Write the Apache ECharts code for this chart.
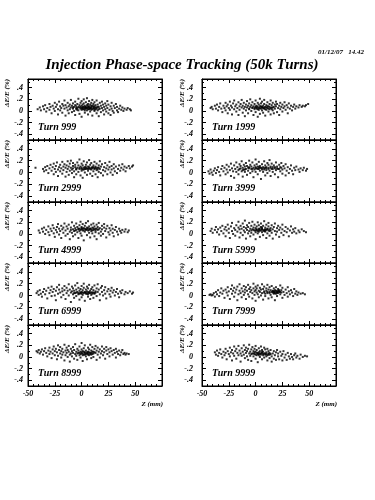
<!DOCTYPE html>
<html><head><meta charset="utf-8">
<script src="https://cdn.jsdelivr.net/npm/echarts@6/dist/echarts.min.js"></script>
<style>html,body{margin:0;padding:0;background:#fff}#c{width:375px;height:500px}</style>
</head><body><div id="c"></div>
<script>
// Panel labels (row by row, left then right)
const turnLabels = ['Turn 999','Turn 1999','Turn 2999','Turn 3999','Turn 4999','Turn 5999','Turn 6999','Turn 7999','Turn 8999','Turn 9999'];
const xTickLabels = [-50,-25,0,25,50];
const yTickLabels = [-0.4,-0.2,0,0.2,0.4];
const yMinorTicks = [-0.5,-0.4,-0.3,-0.2,-0.1,0,0.1,0.2,0.3,0.4,0.5];
// Points: flat pairs of Z (mm), dE/E (units of 0.01 %)
const turn999 = [-41,3,-39,6,-38,1,-36,8,-35,3,-34,10,-33,-1,-32,5,-30,12,-30,2,-29,7,-28,-4,-27,9,-26,4,-25,14,-25,0,-24,7,-23,11,-22,-6,-22,3,-21,16,-20,8,-20,1,-19,5,-18,12,-18,-3,-17,9,-16,18,-16,4,-15,-8,-15,10,-14,6,-13,1,-13,14,-12,8,-12,-4,-11,11,-11,3,-10,19,-10,6,-9,-2,-9,9,-8,13,-8,4,-7,0,-7,7,-6,16,-6,10,-6,-7,-5,3,-5,8,-4,12,-4,5,-3,21,-3,1,-3,7,-2,-5,-2,10,-1,4,-1,14,-1,7,0,2,0,9,0,17,0,-10,1,5,1,11,1,7,2,3,2,13,2,20,3,6,3,-3,3,9,4,4,4,15,4,7,5,1,5,10,5,22,6,6,6,-6,6,12,7,3,7,8,7,17,8,5,8,-1,8,11,9,7,9,14,9,2,10,9,10,-8,10,19,11,4,11,12,11,6,12,0,12,15,12,8,13,3,13,10,14,-4,14,18,14,6,15,1,15,11,16,7,16,-9,17,14,17,4,18,9,18,-2,19,16,19,5,20,1,20,11,21,-6,21,7,22,13,22,3,23,-1,23,9,24,17,24,5,25,-4,25,11,26,2,27,8,27,-7,28,14,28,4,29,0,30,9,30,-3,31,5,32,12,33,1,33,7,34,-2,35,4,36,9,37,2,38,6,39,0,40,4,42,2,43,5,45,3,46,1,-5,5,-2,6,0,5,1,3,2,7,3,4,4,6,5,5,6,3,7,6,8,4,9,5,10,3,11,8,12,5,13,6,14,4,15,7,16,3,-8,6,-4,2,3,1,6,8,9,9,12,2];
const turn1999 = [-42,5,-41,7,-40,3,-38,9,-37,4,-36,11,-35,1,-34,7,-33,13,-32,4,-31,-2,-30,9,-29,5,-28,14,-28,1,-27,8,-26,-4,-26,11,-25,5,-24,16,-24,2,-23,9,-22,-6,-22,6,-21,13,-20,3,-20,18,-19,8,-18,-1,-18,11,-17,5,-16,15,-16,-7,-15,8,-15,2,-14,12,-13,6,-13,19,-12,-3,-12,9,-11,4,-11,14,-10,7,-10,-9,-9,11,-9,1,-8,17,-8,6,-7,9,-7,-4,-6,3,-6,13,-5,7,-5,20,-4,0,-4,10,-3,5,-3,15,-2,-7,-2,8,-1,3,-1,12,0,6,0,18,0,-2,1,9,1,4,2,14,2,-10,2,7,3,2,3,11,4,5,4,21,4,-5,5,8,5,13,6,1,6,6,6,16,7,-3,7,9,8,4,8,12,8,19,9,7,9,-8,10,2,10,10,11,15,11,5,12,-1,12,8,13,12,13,3,14,18,14,-6,15,6,15,10,16,1,16,14,17,7,17,-4,18,11,18,4,19,16,19,8,20,-2,20,12,21,5,22,9,22,-7,23,14,23,3,24,7,25,11,25,-1,26,5,27,15,27,8,28,2,29,10,30,-4,30,6,31,13,32,4,33,9,34,1,35,7,36,11,37,4,38,8,40,6,41,10,43,7,44,9,46,8,47,10,49,12,-6,4,-3,6,-1,5,1,6,3,5,4,8,5,4,6,7,7,5,8,6,9,3,10,6,11,8,12,4,13,7,14,5,15,3,16,6,2,3,0,8];
const turn2999 = [-43,8,-36,6,-35,2,-34,9,-33,4,-32,11,-31,-1,-30,7,-29,13,-28,3,-27,9,-26,-3,-26,15,-25,6,-24,1,-24,11,-23,17,-22,5,-22,-6,-21,9,-20,13,-20,2,-19,7,-18,18,-18,-2,-17,10,-17,4,-16,14,-15,-7,-15,8,-14,1,-14,12,-13,19,-13,6,-12,-4,-12,10,-11,3,-11,15,-10,8,-10,20,-9,-1,-9,5,-8,11,-8,16,-7,2,-7,-8,-6,9,-6,13,-5,5,-5,-3,-4,17,-4,8,-3,1,-3,12,-2,6,-2,22,-1,-5,-1,10,0,3,0,15,0,8,1,-9,1,12,2,5,2,19,3,9,3,0,4,13,4,6,5,-4,5,17,6,10,6,3,7,21,7,7,8,-2,8,13,9,5,9,16,10,9,10,-6,11,2,11,12,12,18,12,7,13,-3,13,10,14,4,14,15,15,8,15,-8,16,12,16,1,17,19,17,6,18,-1,18,10,19,14,20,4,20,-5,21,9,22,16,22,2,23,7,24,-3,24,12,25,5,26,18,26,9,27,0,28,11,28,5,29,-4,30,14,30,7,31,2,32,10,33,-1,34,6,35,12,36,3,37,8,38,14,39,5,40,10,41,2,42,8,44,11,45,7,47,10,48,12,-5,6,-2,8,0,6,1,5,2,8,3,6,4,9,5,7,6,6,7,9,8,6,9,8,10,7,11,9,12,6,13,8,14,7,15,5,16,8,-8,7];
const turn3999 = [-44,2,-43,-2,-42,5,-41,0,-40,-4,-39,3,-38,7,-37,-1,-36,4,-35,9,-34,1,-33,-5,-32,6,-31,11,-30,2,-29,8,-28,-3,-27,13,-27,5,-26,0,-25,10,-24,4,-23,15,-23,-6,-22,7,-21,2,-20,12,-20,-9,-19,6,-18,17,-18,1,-17,9,-16,4,-16,-3,-15,14,-14,7,-14,11,-13,2,-13,19,-12,8,-12,-7,-11,5,-11,13,-10,10,-10,1,-9,16,-9,6,-8,-4,-8,11,-7,8,-7,3,-6,20,-6,9,-5,-1,-5,13,-4,6,-4,10,-3,2,-3,17,-2,8,-2,-8,-1,12,-1,5,0,9,0,22,0,1,1,7,1,14,2,-3,2,10,3,6,3,18,4,3,4,11,5,8,5,-11,6,14,6,5,7,9,7,1,8,19,8,7,9,-5,9,12,10,4,10,9,11,16,11,-1,12,8,12,13,13,3,13,21,14,10,14,-6,15,6,15,15,16,1,16,9,17,12,18,-3,18,7,19,17,19,4,20,10,21,-8,21,6,22,13,23,2,23,9,24,16,25,5,25,-2,26,11,27,7,28,-5,28,14,29,3,30,9,31,-1,32,6,33,12,34,3,35,-3,36,8,37,4,38,10,40,5,41,1,42,7,44,4,45,8,47,3,48,6,-15,6,-10,5,-6,7,-3,6,0,7,2,6,4,8,6,7,8,5,10,7,12,6,14,8,16,6,18,9,20,7,22,6,-12,4,3,9,9,8,24,8];
const turn4999 = [-40,6,-39,2,-37,9,-36,4,-35,11,-34,0,-33,7,-31,13,-31,3,-30,-2,-29,9,-28,5,-27,15,-26,1,-26,10,-25,-5,-24,7,-23,12,-23,3,-22,17,-21,-1,-21,9,-20,5,-19,14,-19,-7,-18,8,-17,2,-17,11,-16,18,-15,6,-15,-3,-14,13,-13,9,-13,0,-12,16,-11,4,-11,-9,-10,11,-10,7,-9,20,-9,2,-8,8,-8,-4,-7,14,-7,5,-6,10,-6,-1,-5,18,-5,7,-4,3,-4,12,-3,-7,-3,9,-2,15,-2,5,-1,1,-1,21,0,8,0,12,0,-3,1,6,1,17,2,10,2,-11,3,4,3,14,4,8,4,19,5,-2,5,11,6,6,6,22,7,2,7,13,8,9,8,-6,9,16,9,5,10,11,10,1,11,18,11,7,12,-4,12,13,13,9,13,3,14,16,14,-9,15,7,15,12,16,1,16,19,17,10,18,4,18,-3,19,14,19,8,20,0,21,11,21,17,22,5,23,-6,23,9,24,14,25,3,26,10,26,-1,27,6,28,15,29,2,29,9,30,-4,31,7,32,12,33,4,34,-1,35,9,36,5,37,2,38,7,40,4,41,8,43,3,44,6,-6,6,-3,8,-1,7,1,9,2,6,3,9,4,7,5,8,6,10,7,7,8,9,9,8,10,6,11,10,12,8,13,6,-2,9,0,10,14,9,16,8];
const turn5999 = [-42,5,-41,9,-40,2,-38,7,-37,12,-36,3,-35,8,-34,-1,-33,11,-32,5,-31,14,-30,1,-29,8,-28,-4,-28,12,-27,6,-26,16,-25,2,-25,9,-24,-7,-23,13,-22,5,-22,19,-21,0,-20,10,-19,7,-19,-3,-18,15,-17,4,-16,11,-16,21,-15,-6,-15,8,-14,2,-14,14,-13,9,-12,18,-12,-2,-11,6,-11,12,-10,3,-10,23,-9,10,-9,-8,-8,7,-8,15,-7,1,-7,12,-6,19,-6,5,-5,-4,-5,9,-4,14,-4,2,-3,8,-3,21,-2,-1,-2,11,-1,6,-1,16,0,3,0,10,0,-9,1,13,1,7,2,20,2,1,3,9,3,15,4,-5,4,6,5,12,5,18,6,3,6,9,7,-2,7,14,8,7,8,22,9,4,9,11,10,-7,10,16,11,8,11,1,12,13,12,19,13,5,13,-3,14,10,15,15,15,2,16,8,16,-8,17,12,18,5,18,18,19,-1,20,10,20,4,21,14,22,-5,22,7,23,11,24,2,25,16,25,8,26,-2,27,5,28,12,29,3,30,9,31,-4,32,6,33,13,34,2,35,8,36,4,37,10,38,1,40,6,41,3,43,8,45,5,47,3,-4,6,-2,7,0,6,1,8,2,5,3,7,4,9,5,6,6,8,7,6,8,5,9,8,10,7,11,9,12,6,13,8,14,6,3,4,6,11,9,6];
const turn6999 = [-42,4,-41,7,-40,1,-39,9,-38,3,-37,-2,-36,6,-35,11,-34,2,-33,8,-32,-5,-31,13,-30,4,-29,9,-28,-1,-28,15,-27,6,-26,11,-25,0,-24,8,-24,-8,-23,14,-22,3,-21,10,-21,18,-20,5,-19,-3,-18,12,-18,7,-17,1,-16,16,-16,9,-15,-6,-14,4,-14,13,-13,8,-12,19,-12,0,-11,10,-10,5,-10,-11,-9,15,-9,7,-8,2,-8,12,-7,-4,-7,8,-6,17,-6,4,-5,10,-5,-1,-4,6,-4,21,-3,13,-3,2,-2,8,-2,-7,-1,4,-1,11,0,16,0,6,0,-3,1,9,1,1,2,13,2,20,3,5,3,-9,4,10,4,3,5,15,5,7,6,-2,6,12,7,4,7,18,8,8,8,-6,9,11,9,1,10,14,10,5,11,-4,11,9,12,17,12,3,13,7,14,12,14,-1,15,6,15,19,16,10,17,2,17,-8,18,13,19,6,19,16,20,0,21,9,22,3,22,14,23,-5,24,7,25,11,26,2,27,8,27,-2,28,13,29,5,30,9,31,0,32,6,33,11,34,3,35,-3,36,7,37,4,38,9,40,2,41,6,43,4,45,7,47,3,48,5,-7,4,-5,5,-3,4,-1,5,0,3,1,5,2,4,3,6,4,5,5,3,6,5,7,6,8,4,9,5,10,3,11,5,12,4,13,5,-2,3,6,2];
const turn7999 = [-43,1,-42,2,-41,0,-40,1,-39,4,-38,-2,-37,6,-36,2,-35,9,-34,-1,-33,5,-32,12,-31,3,-30,8,-29,-4,-28,10,-27,5,-26,14,-26,0,-25,7,-24,-6,-23,11,-22,3,-22,17,-21,8,-20,-2,-20,13,-19,5,-18,10,-17,-8,-17,15,-16,2,-15,8,-15,19,-14,4,-13,12,-13,-3,-12,7,-11,16,-11,1,-10,10,-10,5,-9,-6,-9,14,-8,8,-7,2,-7,18,-6,11,-6,-2,-5,6,-5,14,-4,9,-3,-5,-3,4,-2,12,-2,20,-1,7,-1,1,0,15,0,-9,0,9,1,5,1,12,2,2,2,17,3,8,3,-3,4,13,4,6,5,10,5,0,6,19,6,4,7,-7,7,11,8,7,8,15,9,3,9,-1,10,12,10,8,11,18,11,4,12,-5,12,10,13,6,13,14,14,1,14,9,15,16,15,-3,16,7,17,12,17,3,18,-8,18,9,19,14,20,5,20,-1,21,11,22,7,23,17,23,2,24,9,25,-4,25,13,26,6,27,1,28,10,29,4,30,-2,30,14,31,7,32,2,33,9,34,5,35,-1,36,11,37,3,38,7,39,1,40,5,42,3,44,4,46,2,16,5,17,7,18,4,18,6,19,8,20,5,20,7,21,4,21,8,22,6,19,3,17,5,22,9,23,6,15,6,16,8,24,5,13,4,11,6,8,5];
const turn8999 = [-42,10,-41,8,-40,12,-39,6,-38,9,-37,13,-36,4,-35,10,-34,15,-33,7,-32,1,-31,11,-30,16,-30,5,-29,9,-28,-2,-27,13,-27,6,-26,18,-25,3,-25,10,-24,14,-23,-4,-23,8,-22,20,-22,2,-21,12,-20,6,-20,17,-19,-1,-19,10,-18,4,-18,14,-17,8,-16,21,-16,-6,-15,11,-15,3,-14,16,-14,7,-13,0,-13,12,-12,9,-12,19,-11,4,-11,-8,-10,14,-10,6,-9,10,-9,1,-8,17,-8,7,-7,-3,-7,12,-6,5,-6,22,-5,9,-5,2,-4,14,-4,-5,-3,7,-3,11,-2,18,-2,3,-1,9,-1,-1,0,13,0,6,0,24,1,-7,1,10,2,4,2,15,3,8,3,20,4,1,4,11,5,6,5,-4,6,16,6,9,7,3,7,13,8,21,8,7,9,-2,9,11,10,5,10,17,11,9,11,0,12,14,13,7,13,19,14,-5,14,11,15,4,15,16,16,9,17,13,17,-1,18,6,19,18,19,10,20,3,21,14,21,8,22,-3,23,11,23,17,24,5,25,13,26,8,26,1,27,15,28,10,29,4,30,12,31,7,32,-1,32,14,33,9,34,5,35,11,36,3,37,8,38,12,39,5,40,7,41,4,42,6,44,5,-4,6,-2,7,-1,5,0,8,1,6,2,9,3,7,4,5,5,8,6,6,7,8,8,5,9,7,10,9,11,6,12,8,3,4,6,4,9,4,1,3];
const turn9999 = [-38,8,-37,4,-36,11,-35,2,-34,7,-33,13,-32,5,-31,-1,-30,9,-29,3,-28,14,-28,7,-27,-4,-26,10,-25,5,-24,16,-24,1,-23,8,-22,-6,-22,12,-21,6,-20,18,-20,2,-19,10,-18,-3,-18,14,-17,7,-16,3,-16,19,-15,11,-14,-8,-14,6,-13,15,-13,2,-12,9,-11,20,-11,4,-10,12,-10,-2,-9,7,-9,16,-8,1,-8,10,-7,-5,-7,14,-6,6,-6,21,-5,9,-5,2,-4,13,-4,-7,-3,6,-3,17,-2,10,-2,1,-1,14,-1,5,0,-3,0,9,0,19,1,3,1,12,2,7,2,-9,3,15,3,5,4,10,4,0,5,18,5,6,6,-4,6,12,7,3,7,9,8,16,8,-1,9,6,9,13,10,1,10,8,11,-6,11,14,12,4,12,10,13,-2,13,7,14,12,15,1,15,-8,16,6,17,10,17,-3,18,3,19,8,19,-5,20,12,21,1,21,6,22,-4,23,9,24,2,25,-6,25,5,26,10,27,-1,28,4,29,-5,30,7,31,1,32,-3,33,5,34,0,35,-4,36,3,37,6,38,-1,39,2,41,-3,42,4,44,0,46,2,48,1,-4,5,-2,6,0,4,1,7,2,5,3,8,4,6,5,4,6,7,7,5,8,6,9,4,10,5,11,3,12,6,13,4,14,5,-1,8,3,3,6,9];

const panels = [turn999,turn1999,turn2999,turn3999,turn4999,turn5999,turn6999,turn7999,turn8999,turn9999];

const FONT = 'Liberation Serif';
const colLeft = [28, 202];
const PW = 134;
function rowTop(r){ return Math.round(79 + 61.4*r); }
const yFmt = v => { if (Math.abs(v) < 1e-9) return '0'; const s = Math.abs(v).toFixed(1).replace(/^0/, ''); return (v < 0 ? '-' : '') + s; };

const grid = [], xAxis = [], yAxis = [], series = [], graphic = [];
const lbl = {fontFamily: FONT, fontStyle: 'italic', fontWeight: 'bold', color: '#000'};

panels.forEach((flat, i) => {
  const r = Math.floor(i/2), c = i % 2;
  const top = rowTop(r), h = rowTop(r+1) - top;
  grid.push({left: colLeft[c], top: top, width: PW, height: h, show: true, borderColor: '#000', borderWidth: 1, backgroundColor: 'transparent', containLabel: false});
  const isBottom = r === 4;
  const xBase = {gridIndex: i, type: 'value', min: -50, max: 75, interval: 25, splitLine: {show: false},
    axisLine: {show: true, onZero: false, lineStyle: {color: '#000', width: 1}},
    axisTick: {show: true, inside: true, length: 4, lineStyle: {color: '#000'}},
    minorTick: {show: true, splitNumber: 5, length: 2, lineStyle: {color: '#000'}},
    minorSplitLine: {show: false}};
  xAxis.push(Object.assign({}, xBase, {position: 'bottom',
    axisLabel: Object.assign({show: isBottom, fontSize: 8, margin: 4, formatter: v => (v === 75 ? '' : String(v))}, lbl)}));
  xAxis.push(Object.assign({}, xBase, {position: 'top', axisLabel: {show: false}}));
  const yBase = {gridIndex: i, type: 'value', min: -0.5, max: 0.55, splitLine: {show: false}, axisLine: {show: true, onZero: false, lineStyle: {color: '#000', width: 1}}};
  ['left', 'right'].forEach(pos => {
    yAxis.push(Object.assign({}, yBase, {position: pos,
      axisTick: {show: true, inside: true, length: 4, customValues: yTickLabels, lineStyle: {color: '#000'}},
      axisLabel: Object.assign({show: pos === 'left', fontSize: 8, margin: c === 0 ? 5 : 9, customValues: yTickLabels, formatter: yFmt}, lbl)}));
    yAxis.push(Object.assign({}, yBase, {position: pos, axisLine: {show: false, onZero: false},
      axisTick: {show: true, inside: true, length: 2, customValues: yMinorTicks, lineStyle: {color: '#000'}},
      axisLabel: {show: false}}));
  });
  const pts = [];
  for (let k = 0; k < flat.length; k += 2) pts.push([flat[k], flat[k+1] / 100]);
  series.push({type: 'scatter', xAxisIndex: i*2, yAxisIndex: i*4, data: pts, symbol: 'rect', symbolSize: 2,
    itemStyle: {color: '#000'}, silent: true, animation: false});
  graphic.push({type: 'text', left: colLeft[c] + 10, top: top + 43,
    style: {text: turnLabels[i], font: 'italic bold 10px "' + FONT + '"', fill: '#000'}});
  graphic.push({type: 'text', x: c === 0 ? 7 : 182, y: top + 14, rotation: Math.PI/2,
    style: {text: 'ΔE/E (%)', font: 'italic bold 7px "' + FONT + '"', fill: '#000', align: 'center', verticalAlign: 'middle'}});
  if (isBottom) {
    graphic.push({type: 'text', x: colLeft[c] + PW + 1, y: 404,
      style: {text: 'Z (mm)', font: 'italic bold 7px "' + FONT + '"', fill: '#000', align: 'right', verticalAlign: 'middle'}});
  }
});

graphic.push({type: 'text', x: 182, y: 65, style: {text: 'Injection Phase-space Tracking (50k Turns)', font: 'italic bold 15px "' + FONT + '"', fill: '#000', align: 'center', verticalAlign: 'middle'}});
graphic.push({type: 'text', x: 364, y: 52, style: {text: '01/12/07   14.42', font: 'italic bold 7px "' + FONT + '"', fill: '#000', align: 'right', verticalAlign: 'middle'}});

const chart = echarts.init(document.getElementById('c'), null, {renderer: 'canvas'});
chart.setOption({animation: false, backgroundColor: '#fff', grid, xAxis, yAxis, series, graphic});
</script>
</body></html>
